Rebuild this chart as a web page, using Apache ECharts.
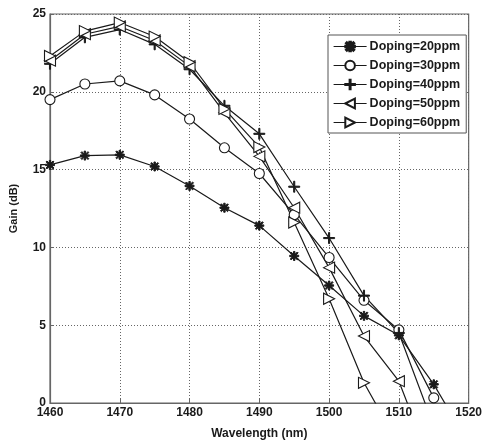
<!DOCTYPE html>
<html>
<head>
<meta charset="utf-8">
<script src="https://cdn.jsdelivr.net/npm/echarts@6/dist/echarts.min.js"></script>
<style>
  html, body { margin: 0; padding: 0; background: #fff; }
  #chart { width: 485px; height: 445px; }
</style>
</head>
<body>
<div id="chart"></div>
<script>
// wavelength (nm)
const wavelengths = [1460, 1465, 1470, 1475, 1480, 1485, 1490, 1495, 1500, 1505, 1510, 1515, 1520];

// gain (dB), values below 0 run off the axis like in the original
const doping20 = [15.3, 15.9, 15.95, 15.2, 13.95, 12.55, 11.4, 9.45, 7.55, 5.6, 4.35, 1.2, -2.6];
const doping30 = [19.5, 20.5, 20.7, 19.8, 18.25, 16.4, 14.75, 12.1, 9.35, 6.6, 4.7, 0.33, null];
const doping40 = [21.8, 23.5, 24.0, 23.05, 21.45, 19.1, 17.3, 13.9, 10.6, 6.9, 4.5, -1.5, null];
const doping50 = [22.0, 23.7, 24.2, 23.3, 21.65, 18.65, 15.85, 12.55, 8.7, 4.3, 1.4, -4.4, null];
const doping60 = [22.3, 23.9, 24.45, 23.55, 21.9, 18.9, 16.45, 11.6, 6.7, 1.3, -2.7, null, null];

const seriesNames = ['Doping=20ppm', 'Doping=30ppm', 'Doping=40ppm', 'Doping=50ppm', 'Doping=60ppm'];

const ink = '#1a1a1a';
const asterisk = 'path://M4.2,0h1.6v10h-1.6z M0,4.2h10v1.6h-10z ' +
  'M1.6,0.6L9.4,8.4L8.4,9.4L0.6,1.6z M8.4,0.6L9.4,1.6L1.6,9.4L0.6,8.4z';
const plus = 'path://M4.5,0h1v10h-1z M0,4.5h10v1h-10z';

function makeSeries(name, values, symbol, opts) {
  return Object.assign({
    name,
    type: 'line',
    data: wavelengths.map((w, i) => [w, values[i]]),
    symbol,
    symbolSize: 10,
    clip: true,
    connectNulls: false,
    lineStyle: { color: ink, width: 1.2 },
    itemStyle: { color: ink, borderColor: ink, borderWidth: 1 },
    z: 3
  }, opts || {});
}

const hollow = { color: '#fff', borderColor: ink, borderWidth: 1.1 };

const labelFont = {
  color: ink,
  fontFamily: 'Liberation Sans',
  fontWeight: 'bold',
  fontSize: 12
};
const dotted = { show: true, lineStyle: { color: '#666', type: [1, 2], width: 1 } };

const chart = echarts.init(document.getElementById('chart'));
chart.setOption({
  animation: false,
  backgroundColor: '#fff',
  grid: {
    left: 48,
    right: 13,
    top: 14,
    bottom: 33,
    show: true,
    borderColor: '#666',
    borderWidth: 1.2
  },
  legend: {
    orient: 'vertical',
    left: 328,
    top: 35,
    padding: [5, 6, 4, 5],
    itemWidth: 33,
    itemHeight: 12,
    itemGap: 6,
    backgroundColor: '#fff',
    borderColor: '#555',
    borderWidth: 1,
    borderRadius: 0,
    data: seriesNames,
    lineStyle: { width: 1.2 },
    textStyle: Object.assign({}, labelFont, { fontSize: 12.5, padding: [0, 0, 0, -2] })
  },
  xAxis: {
    type: 'value',
    min: 1460,
    max: 1520,
    interval: 10,
    name: 'Wavelength (nm)',
    nameLocation: 'middle',
    nameGap: 25,
    nameTextStyle: labelFont,
    axisLine: { show: true, lineStyle: { color: '#666', width: 1.2 } },
    axisTick: { show: true, inside: true, length: 4, lineStyle: { color: '#666' } },
    axisLabel: Object.assign({}, labelFont, { margin: 4, formatter: v => String(v) }),
    splitLine: dotted
  },
  yAxis: {
    type: 'value',
    min: 0,
    max: 25,
    interval: 5,
    name: 'Gain (dB)',
    nameLocation: 'middle',
    nameGap: 31,
    nameTextStyle: Object.assign({}, labelFont, { fontSize: 11 }),
    axisLine: { show: true, lineStyle: { color: '#666', width: 1.2 } },
    axisTick: { show: true, inside: true, length: 4, lineStyle: { color: '#666' } },
    axisLabel: Object.assign({}, labelFont, { margin: 4 }),
    splitLine: dotted
  },
  series: [
    makeSeries(seriesNames[0], doping20, asterisk, { symbolSize: 9 }),
    makeSeries(seriesNames[1], doping30, 'circle', { symbolSize: 10, itemStyle: hollow }),
    makeSeries(seriesNames[2], doping40, plus, { symbolSize: 11 }),
    makeSeries(seriesNames[3], doping50, 'triangle', { symbolSize: 11, symbolRotate: 90, itemStyle: hollow }),
    makeSeries(seriesNames[4], doping60, 'triangle', { symbolSize: 11, symbolRotate: -90, itemStyle: hollow })
  ]
});
</script>
</body>
</html>
